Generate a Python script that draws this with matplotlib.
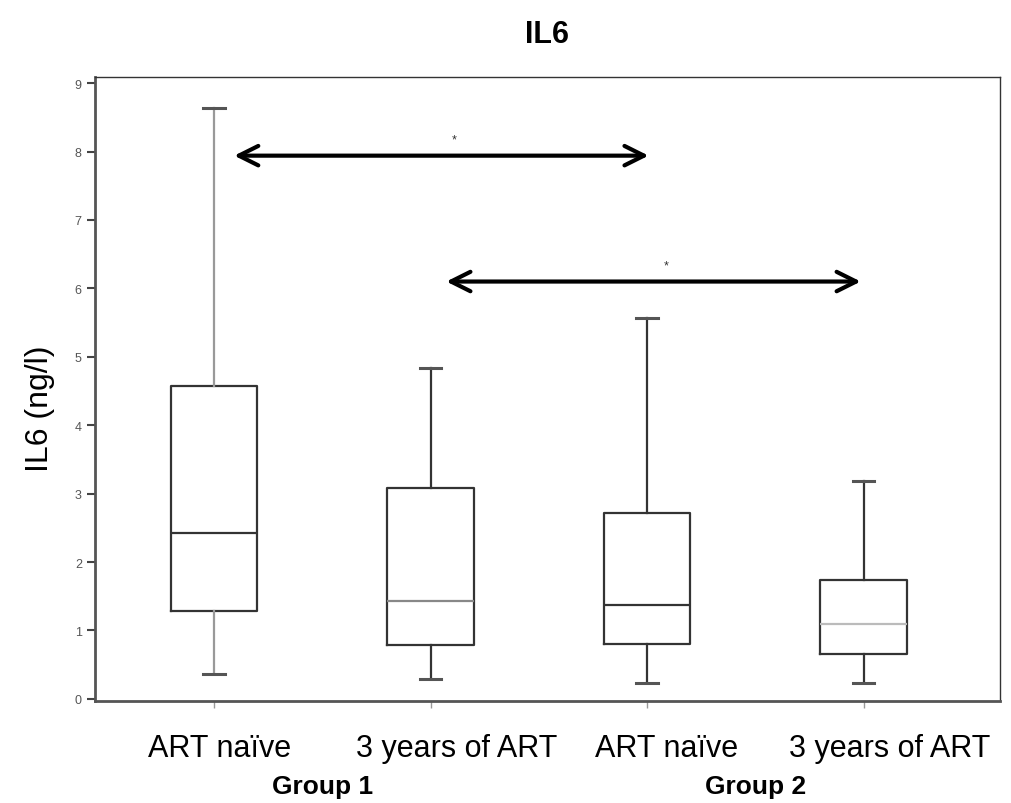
"""IL6 box plot, ART naive vs 3 years of ART"""
import matplotlib.pyplot as plt
from matplotlib.transforms import ScaledTranslation

plt.rcParams['font.family'] = ['Liberation Sans', 'DejaVu Sans']

# Box statistics (ng/l)
labels = ['ART naïve', '3 years of ART', 'ART naïve', '3 years of ART']
whisker_low = [0.37, 0.29, 0.23, 0.23]
q1 = [1.29, 0.78, 0.80, 0.66]
median = [2.43, 1.43, 1.37, 1.10]
q3 = [4.58, 3.08, 2.72, 1.73]
whisker_high = [8.63, 4.84, 5.56, 3.19]

groups = ['Group 1', 'Group 2']

# Significance brackets: (from box, to box, height, star)
arrow_from = [1.08, 2.06]
arrow_to = [3.02, 4.0]
arrow_y = [7.94, 6.1]
stars = ['*', '*']

fig = plt.figure(figsize=(10.11, 8.04), dpi=100)
ax = fig.add_axes([0.094, 0.127, 0.895, 0.776])

positions = [1, 2, 3, 4]
stats = []
for i in range(4):
    stats.append(dict(whislo=whisker_low[i], q1=q1[i], med=median[i],
                      q3=q3[i], whishi=whisker_high[i], fliers=[]))

bp = ax.bxp(stats, positions=positions, widths=0.4, showfliers=False,
            boxprops=dict(color='#333333', lw=1.6),
            whiskerprops=dict(color='#333333', lw=1.6),
            capprops=dict(color='#555555', lw=2.2),
            medianprops=dict(color='#333333', lw=1.6))

# Some lines come out lighter in the original
bp['whiskers'][0].set_color('#999999')
bp['whiskers'][1].set_color('#999999')
bp['medians'][1].set_color('#888888')
bp['medians'][3].set_color('#bbbbbb')
for c in bp['caps']:
    c.set_xdata([c.get_xdata()[0] + 0.05, c.get_xdata()[1] - 0.05])

# Arrows with stars
for x0, x1, y, s in zip(arrow_from, arrow_to, arrow_y, stars):
    ax.annotate('', xy=(x0, y), xytext=(x1, y),
                arrowprops=dict(arrowstyle='<->', lw=3, color='black',
                                mutation_scale=35))
    ax.text((x0 + x1) / 2 + 0.06, y + 0.15, s, ha='center', va='bottom',
            fontsize=9, color='#333333')

ax.set_xlim(0.45, 4.63)
ax.set_ylim(-0.03, 9.09)
ax.set_yticks(range(10))
ax.set_xticks(positions)
ax.set_xticklabels(labels, fontsize=22)
ax.tick_params(axis='y', labelsize=9, labelcolor='#555555', length=6,
               width=1.5, color='#444444')
ax.tick_params(axis='x', length=5, width=1, color='#999999', pad=18)

# The labels sit a little right of their ticks in the original
shifts = [5, 26, 20, 26]
for lab, dx in zip(ax.get_xticklabels(), shifts):
    lab.set_transform(lab.get_transform() +
                      ScaledTranslation(dx / 100, 0, fig.dpi_scale_trans))

for side in ['left', 'bottom']:
    ax.spines[side].set_linewidth(2)
    ax.spines[side].set_color('#555555')
for side in ['top', 'right']:
    ax.spines[side].set_linewidth(1)
    ax.spines[side].set_color('#333333')

ax.set_ylabel('IL6 (ng/l)', fontsize=23, labelpad=14, y=0.47)
ax.set_title('IL6', fontsize=22, fontweight='bold', pad=25)

# Group labels under the tick labels
ax.text(1.5, -1.27, groups[0], ha='center', va='center', fontsize=19,
        fontweight='bold')
ax.text(3.5, -1.27, groups[1], ha='center', va='center', fontsize=19,
        fontweight='bold')

fig.savefig('out.png', dpi=100)
